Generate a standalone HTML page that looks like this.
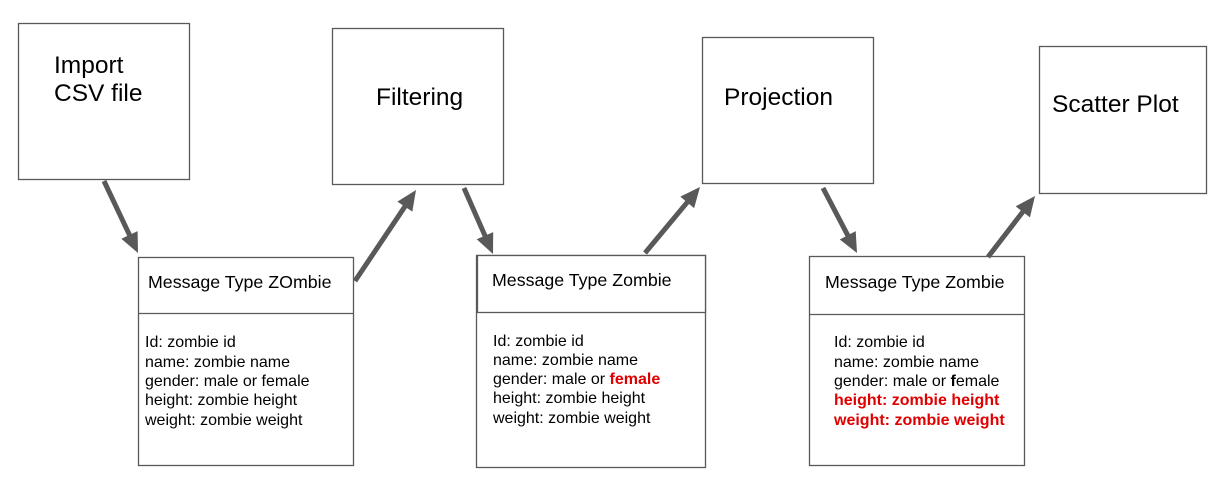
<!DOCTYPE html>
<html><head><style>
body{margin:0;background:#fff;}
svg{display:block;}
text{font-family:"Liberation Sans",Arial,sans-serif;fill:#000;}
.big{font-size:24.5px;}
.t{font-size:17.8px;}
.s{font-size:16px;}
.r{fill:#e00000;font-weight:bold;}
rect{fill:#fff;stroke:#595959;stroke-width:1.3;}
line.a{stroke:#595959;stroke-width:5;}
polygon{fill:#595959;}
</style></head><body>
<svg width="1231" height="499" viewBox="0 0 1231 499">
<rect x="18.5" y="23.5" width="171" height="156"/>
<text class="big" x="54" y="73">Import</text>
<text class="big" x="54" y="101">CSV file</text>
<rect x="332.5" y="28.5" width="171" height="156"/>
<text class="big" x="376" y="105">Filtering</text>
<rect x="702.5" y="37.5" width="171" height="146"/>
<text class="big" x="724" y="105">Projection</text>
<rect x="1039.5" y="46.5" width="167" height="147"/>
<text class="big" x="1052" y="112">Scatter Plot</text>

<rect x="138.5" y="257.5" width="215" height="208"/>
<line x1="138" y1="313.5" x2="354" y2="313.5" stroke="#595959" stroke-width="1.3"/>
<text class="t" x="148" y="288">Message Type ZOmbie</text>
<text class="s" x="145" y="347">Id: zombie id</text>
<text class="s" x="145" y="367">name: zombie name</text>
<text class="s" x="145" y="386">gender: male or female</text>
<text class="s" x="145" y="405">height: zombie height</text>
<text class="s" x="145" y="425">weight: zombie weight</text>

<rect x="476.5" y="255.5" width="229" height="212"/>
<rect x="477.5" y="255.5" width="228" height="57"/>
<text class="t" x="492" y="286">Message Type Zombie</text>
<text class="s" x="493" y="346">Id: zombie id</text>
<text class="s" x="493" y="365">name: zombie name</text>
<text class="s" x="493" y="384">gender: male or <tspan class="r">female</tspan></text>
<text class="s" x="493" y="403">height: zombie height</text>
<text class="s" x="493" y="423">weight: zombie weight</text>

<rect x="809.5" y="256.5" width="215" height="209"/>
<line x1="809" y1="314.5" x2="1025" y2="314.5" stroke="#595959" stroke-width="1.3"/>
<text class="t" x="825" y="288">Message Type Zombie</text>
<text class="s" x="834" y="347">Id: zombie id</text>
<text class="s" x="834" y="367">name: zombie name</text>
<text class="s" x="834" y="386">gender: male or <tspan font-weight="bold">f</tspan>emale</text>
<text class="s r" x="834" y="405">height: zombie height</text>
<text class="s r" x="834" y="425">weight: zombie weight</text>

<g id="arrows"></g>
</svg>
<script>
var A=[[104,181,138,253],[355,281,416,190],[464,188,493,254],[645,253,700,187],[823,188,857,253],[988,257,1035,196]];
var g=document.getElementById('arrows'),ns='http://www.w3.org/2000/svg';
A.forEach(function(a){var dx=a[2]-a[0],dy=a[3]-a[1],L=Math.hypot(dx,dy),ux=dx/L,uy=dy/L,h=20,w=9;
var bx=a[2]-ux*h,by=a[3]-uy*h;
var l=document.createElementNS(ns,'line');l.setAttribute('class','a');l.setAttribute('x1',a[0]);l.setAttribute('y1',a[1]);l.setAttribute('x2',bx+ux*2);l.setAttribute('y2',by+uy*2);g.appendChild(l);
var p=document.createElementNS(ns,'polygon');p.setAttribute('points',a[2]+','+a[3]+' '+(bx-uy*w)+','+(by+ux*w)+' '+(bx+uy*w)+','+(by-ux*w));g.appendChild(p);});
</script>
</body></html>
